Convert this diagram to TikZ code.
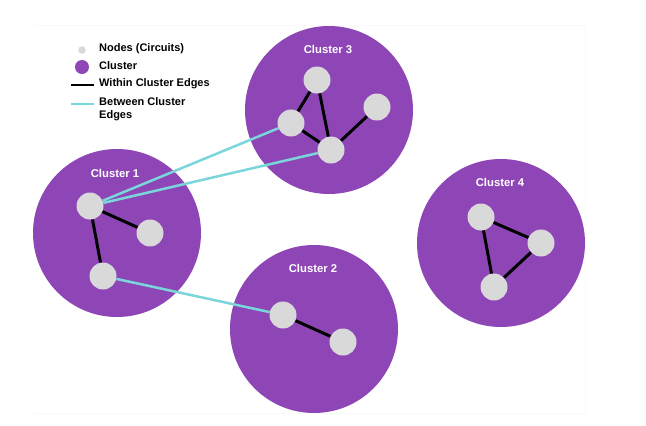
\documentclass[tikz,border=0pt]{standalone}
\usepackage{fontspec}
\setmainfont{Liberation Sans}
\definecolor{clusterpurple}{HTML}{8E45B6}
\definecolor{circuitgray}{HTML}{D9D9D9}
\definecolor{edgecyan}{HTML}{7AD6DA}
\begin{document}
\begin{tikzpicture}[x=1pt,y=-1pt,
  cluster/.style={circle,fill=clusterpurple,minimum size=168pt,inner sep=0pt},
  circuit/.style={circle,fill=circuitgray,minimum size=27pt,inner sep=0pt},
  within/.style={line width=3pt,black},
  between/.style={line width=2.5pt,edgecyan},
  title/.style={text=white,font=\bfseries\fontsize{11.3}{13}\selectfont},
  legend/.style={anchor=west,align=left,inner sep=0pt,font=\bfseries\fontsize{11}{13}\selectfont}]
              \useasboundingbox (0,0) rectangle (646,426);
              \draw[gray!5] (33,25) -- (585,25) -- (585,413) -- (33,413);

              \node[cluster] (cl1) at (117,233) {};
              \node[cluster] (cl2) at (314,329) {};
              \node[cluster] (cl3) at (329,110) {};
              \node[cluster] (cl4) at (501,243) {};
                \node[title] at (115,173) {Cluster 1};
                \node[title] at (313,268) {Cluster 2};
                \node[title] at (328,49) {Cluster 3};
                \node[title] at (500,182) {Cluster 4};

              \node[circuit] (a1) at (90,206) {};
              \node[circuit] (a2) at (150,233) {};
              \node[circuit] (a3) at (103,276) {};
              \node[circuit] (b1) at (283,315) {};
              \node[circuit] (b2) at (343,342) {};
              \node[circuit] (c1) at (317,80) {};
              \node[circuit] (c2) at (291,123) {};
              \node[circuit] (c3) at (331,150) {};
              \node[circuit] (c4) at (377,107) {};
              \node[circuit] (d1) at (481,217) {};
              \node[circuit] (d2) at (541,243) {};
              \node[circuit] (d3) at (494,287) {};

              \draw[within] (a1) -- (a2);
              \draw[within] (a1) -- (a3);
              \draw[within] (b1) -- (b2);
              \draw[within] (c1) -- (c2);
              \draw[within] (c1) -- (c3);
              \draw[within] (c2) -- (c3);
              \draw[within] (c3) -- (c4);
              \draw[within] (d1) -- (d2);
              \draw[within] (d1) -- (d3);
              \draw[within] (d2) -- (d3);

              \draw[between] (a1) -- (c2);
              \draw[between] (a1) -- (c3);
              \draw[between] (a3) -- (b1);

              \node[circle,fill=circuitgray,minimum size=7.5pt,inner sep=0pt] (keynode) at (82,50) {};
              \node[circle,fill=clusterpurple,minimum size=14pt,inner sep=0pt] (keycluster) at (82,67) {};
              \coordinate (keyw1) at (71,85);
              \coordinate (keyw2) at (94,85);
              \coordinate (keyb1) at (71,104);
              \coordinate (keyb2) at (94,104);
              \draw[within,line width=2.5pt] (keyw1) -- (keyw2);
              \draw[between] (keyb1) -- (keyb2);
                \node[legend] at (99,49) {Nodes (Circuits)};
                \node[legend] at (99,66) {Cluster};
                \node[legend] at (99,84) {Within Cluster Edges};
                \node[legend,anchor=north west] at (99,97) {Between Cluster\\Edges};

            \end{tikzpicture}
\end{document}
